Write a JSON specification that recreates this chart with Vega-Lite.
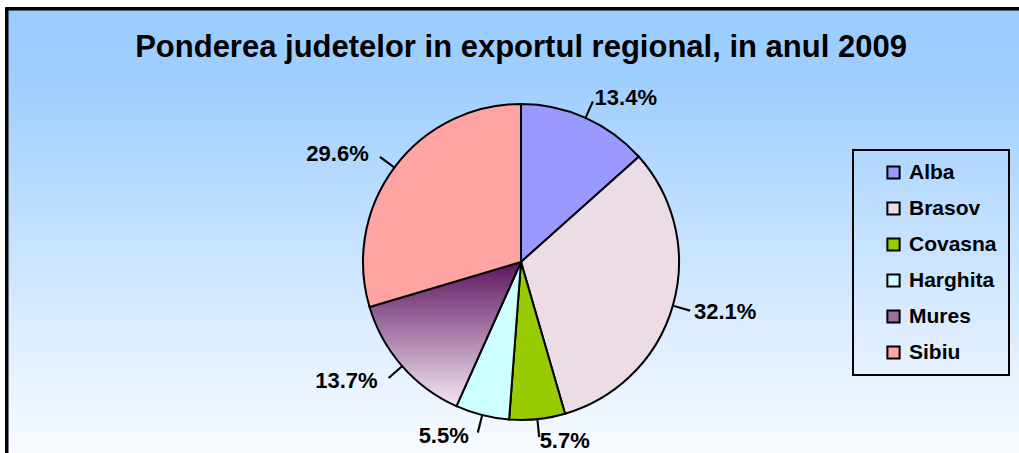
{
  "$schema": "https://vega.github.io/schema/vega-lite/v6.json",
  "width": 1028,
  "height": 506,
  "autosize": {"type": "none"},
  "padding": {"left": 7, "top": 9, "right": -16, "bottom": -62},
  "background": "#ffffff",
  "config": {
    "font": "Liberation Sans",
    "view": {"stroke": null},
    "legend": {"strokeColor": "#000000", "strokeWidth": 2, "padding": 12}
  },
  "title": {
    "text": "Ponderea judetelor in exportul regional, in anul 2009",
    "font": "Liberation Sans",
    "fontSize": 31,
    "fontWeight": "bold",
    "color": "#000000",
    "anchor": "middle",
    "baseline": "alphabetic",
    "offset": -80
  },
  "data": {"values": [
    {"name": "Alba", "share": 0.134},
    {"name": "Brasov", "share": 0.321},
    {"name": "Covasna", "share": 0.057},
    {"name": "Harghita", "share": 0.055},
    {"name": "Mures", "share": 0.137},
    {"name": "Sibiu", "share": 0.296}
  ]},
  "layer": [
    {
      "mark": {"type": "rect", "stroke": "#000000", "strokeWidth": 3, "fill": {"gradient": "linear", "x1": 0, "y1": 0, "x2": 0, "y2": 1,
        "stops": [{"offset": 0, "color": "#99CCFF"}, {"offset": 0.15, "color": "#A0CFFF"}, {"offset": 0.85, "color": "#F6FAFF"}, {"offset": 1, "color": "#FFFFFF"}]}},
      "encoding": {}
    },
    {
      "mark": {"type": "arc", "outerRadius": 158, "stroke": "#000000", "strokeWidth": 2},
      "encoding": {
        "theta": {"field": "share", "type": "quantitative", "stack": true, "scale": {"domain": [0, 1]}},
        "order": {"field": "name", "type": "nominal", "sort": "ascending"},
        "fill": {
          "condition": {"test": "datum.name === 'Mures'", "value": {"gradient": "linear", "x1": 0, "y1": 0, "x2": 0, "y2": 1,
                "stops": [{"offset": 0, "color": "#5C1460"}, {"offset": 1, "color": "#F4E8F2"}]}},
          "field": "name", "type": "nominal",
          "scale": {
            "domain": ["Alba", "Brasov", "Covasna", "Harghita", "Mures", "Sibiu"],
            "range": ["#9999FF", "#ECDCE6", "#99CC00", "#CCFFFF", "#9C6E9C", "#FFA3A3"]
          },
          "legend": {
            "orient": "none",
            "legendX": 846,
            "legendY": 141,
            "title": null,
            "symbolType": "square",
            "symbolSize": 150,
            "symbolStrokeColor": "#000000",
            "symbolStrokeWidth": 2,
            "symbolOffset": 18,
            "labelFont": "Liberation Sans",
            "labelFontSize": 21,
            "labelFontWeight": "bold",
            "labelColor": "#000000",
            "labelOffset": 5,
            "rowPadding": 14
          }
        }
      }
    },
    {
      "transform": [
        {"stack": "share", "groupby": [], "sort": [{"field": "name", "order": "ascending"}], "as": ["v0", "v1"]},
        {"calculate": "(datum.v0 + datum.v1) / 2 - 0.001", "as": "t0"},
        {"calculate": "(datum.v0 + datum.v1) / 2 + 0.001", "as": "t1"}
      ],
      "mark": {"type": "arc", "innerRadius": 157, "outerRadius": 176, "fill": "#000000"},
      "encoding": {
        "theta": {"field": "t0", "type": "quantitative", "scale": {"domain": [0, 1]}},
        "theta2": {"field": "t1"}
      }
    },
    {
      "mark": {"type": "text", "radius": 180, "align": "left", "baseline": "middle", "font": "Liberation Sans", "fontSize": 22, "fontWeight": "bold", "color": "#000000"},
      "encoding": {
        "theta": {"field": "share", "type": "quantitative", "stack": true, "scale": {"domain": [0, 1]}},
        "order": {"field": "name", "type": "nominal", "sort": "ascending"},
        "text": {"condition": {"test": "indexof(['Alba','Brasov','Covasna'], datum.name) >= 0", "field": "share", "type": "quantitative", "format": ".1%"}, "value": ""}
      }
    },
    {
      "mark": {"type": "text", "radius": 180, "dx": -8, "align": "right", "baseline": "middle", "font": "Liberation Sans", "fontSize": 22, "fontWeight": "bold", "color": "#000000"},
      "encoding": {
        "theta": {"field": "share", "type": "quantitative", "stack": true, "scale": {"domain": [0, 1]}},
        "order": {"field": "name", "type": "nominal", "sort": "ascending"},
        "text": {"condition": {"test": "indexof(['Harghita','Mures','Sibiu'], datum.name) >= 0", "field": "share", "type": "quantitative", "format": ".1%"}, "value": ""}
      }
    }
  ]
}
